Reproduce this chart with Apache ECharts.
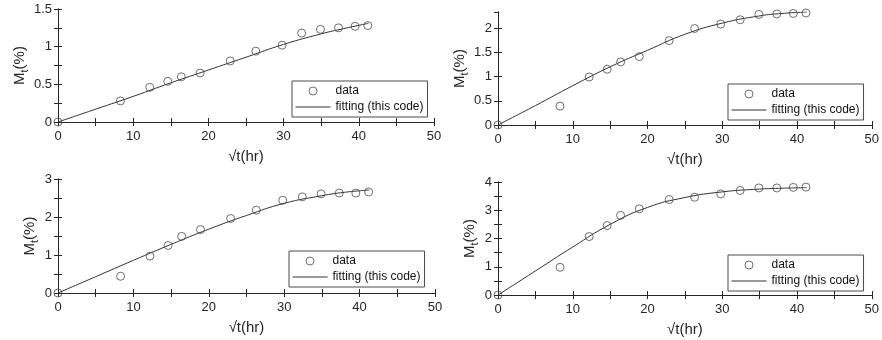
<!DOCTYPE html>
<html>
<head>
<meta charset="utf-8">
<script src="https://cdn.jsdelivr.net/npm/echarts@6/dist/echarts.min.js"></script>
<style>
html,body{margin:0;padding:0;background:#fff;}
#chart{width:882px;height:340px;}
</style>
</head>
<body>
<div id="chart"></div>
<script>
// ---- data ----
const sqrtT = [0, 8.3, 12.2, 14.6, 16.4, 18.9, 22.9, 26.3, 29.8, 32.4, 34.9, 37.3, 39.5, 41.2];

const dataA = [0, 0.28, 0.46, 0.54, 0.60, 0.65, 0.81, 0.94, 1.02, 1.18, 1.23, 1.25, 1.27, 1.28];
const dataB = [0, 0.39, 0.99, 1.15, 1.30, 1.41, 1.74, 1.99, 2.08, 2.17, 2.28, 2.29, 2.30, 2.31];
const dataC = [0, 0.44, 0.97, 1.25, 1.49, 1.67, 1.96, 2.18, 2.44, 2.53, 2.61, 2.63, 2.63, 2.66];
const dataD = [0, 0.98, 2.07, 2.46, 2.82, 3.05, 3.38, 3.46, 3.58, 3.70, 3.79, 3.79, 3.81, 3.82];

const fitX  = [0, 5, 10, 15, 20, 25, 30, 35, 38, 41.3];
const fitA  = [0, 0.17, 0.34, 0.52, 0.69, 0.86, 1.03, 1.17, 1.24, 1.31];
const fitB  = [0, 0.40, 0.81, 1.20, 1.54, 1.87, 2.10, 2.25, 2.30, 2.33];
const fitC  = [0, 0.43, 0.86, 1.28, 1.68, 2.04, 2.36, 2.56, 2.65, 2.71];
const fitD  = [0, 0.85, 1.70, 2.50, 3.10, 3.45, 3.65, 3.75, 3.78, 3.80];

const xTicks = [0, 10, 20, 30, 40, 50];
const yMaxes = [1.5, 2.33, 3, 4];
const yIntervals = [0.5, 0.5, 1, 1];
const yMinor = [true, false, true, true];

const xName = '√t(hr)';
const dataName = 'data';
const fitName = 'fitting (this code)';

// ---- layout ----
const grids = [
  {left: 58, top: 9, width: 376, height: 113},
  {left: 498, top: 12, width: 375, height: 113},
  {left: 58, top: 179, width: 377, height: 114},
  {left: 498, top: 182, width: 375, height: 113}
];
const legendPos = [
  {left: 292, top: 81},
  {left: 728, top: 84},
  {left: 289, top: 251},
  {left: 728, top: 255}
];
const yNameGaps = [30, 31, 21, 21];

const AX = '#262626';
const MARK = '#4a4a4a';
const FONT = 'Liberation Sans, Arial, sans-serif';

const dataSets = [dataA, dataB, dataC, dataD];
const fitSets = [fitA, fitB, fitC, fitD];

const xAxes = [], yAxes = [], series = [], legends = [];
grids.forEach((g, i) => {
  const xBase = {
    gridIndex: i, type: 'value', min: xTicks[0], max: xTicks[xTicks.length - 1],
    interval: xTicks[1] - xTicks[0],
    axisLine: {show: true, lineStyle: {color: AX, width: 1}},
    axisTick: {show: true, inside: true, length: 4, lineStyle: {color: AX}},
    minorTick: {show: true, splitNumber: 2, length: 4, lineStyle: {color: AX}},
    splitLine: {show: false}
  };
  xAxes.push(Object.assign({}, xBase, {
    position: 'bottom',
    axisLabel: {show: true, color: AX, fontSize: 13, fontFamily: FONT, margin: 8},
    name: xName, nameLocation: 'middle', nameGap: 27,
    nameTextStyle: {color: AX, fontSize: 15, fontFamily: FONT}
  }));
  xAxes.push(Object.assign({}, xBase, {position: 'top', axisLabel: {show: false}}));

  const yBase = {
    gridIndex: i, type: 'value', min: 0, max: yMaxes[i], interval: yIntervals[i],
    axisLine: {show: true, lineStyle: {color: AX, width: 1}},
    axisTick: {show: true, inside: true, length: 4, lineStyle: {color: AX}},
    minorTick: {show: yMinor[i], splitNumber: 2, length: 4, lineStyle: {color: AX}},
    splitLine: {show: false}
  };
  yAxes.push(Object.assign({}, yBase, {
    position: 'left',
    axisLabel: {show: true, color: AX, fontSize: 13, fontFamily: FONT, margin: 6, showMaxLabel: i !== 1},
    name: '{m|M}{s|t}{m|(%)}', nameLocation: 'middle', nameGap: yNameGaps[i], nameRotate: 90,
    nameTextStyle: {
      color: AX, fontFamily: FONT,
      rich: {
        m: {fontSize: 15, lineHeight: 15, verticalAlign: 'top', color: AX, fontFamily: FONT},
        s: {fontSize: 11, lineHeight: 11, verticalAlign: 'top', padding: [7, 0, 0, 0], color: AX, fontFamily: FONT}
      }
    }
  }));
  yAxes.push(Object.assign({}, yBase, {position: 'right', axisLabel: {show: false}}));

  series.push({
    name: dataName, type: 'scatter', xAxisIndex: 2 * i, yAxisIndex: 2 * i,
    data: sqrtT.map((x, k) => [x, dataSets[i][k]]),
    symbol: 'circle', symbolSize: 8,
    itemStyle: {color: 'rgba(255,255,255,0)', borderColor: MARK, borderWidth: 1},
    z: 3
  });
  series.push({
    name: fitName, type: 'line', xAxisIndex: 2 * i, yAxisIndex: 2 * i,
    data: fitX.map((x, k) => [x, fitSets[i][k]]),
    showSymbol: false, symbol: 'none', smooth: 0.5,
    lineStyle: {color: '#333', width: 1},
    itemStyle: {color: '#333'},
    z: 2
  });
  legends.push({
    left: legendPos[i].left, top: legendPos[i].top,
    orient: 'vertical',
    data: [
      {name: dataName, icon: 'circle',
       itemStyle: {color: 'rgba(255,255,255,0)', borderColor: MARK, borderWidth: 1}},
      {name: fitName, itemStyle: {color: 'rgba(0,0,0,0)', opacity: 0, borderWidth: 0},
       lineStyle: {color: '#333', width: 1}}
    ],
    itemWidth: 35, itemHeight: 8, itemGap: 2, itemTextGap: 2,
    padding: [3, 4, 3, 3],
    borderColor: MARK, borderWidth: 1, backgroundColor: '#fff',
    selectedMode: false,
    textStyle: {color: '#111', fontSize: 12, fontFamily: FONT, lineHeight: 14},
    z: 10
  });
});

const chart = echarts.init(document.getElementById('chart'), null, {renderer: 'canvas'});
chart.setOption({
  animation: false,
  backgroundColor: '#fff',
  grid: grids.map(g => Object.assign({containLabel: false}, g)),
  xAxis: xAxes,
  yAxis: yAxes,
  legend: legends,
  series: series
});
</script>
</body>
</html>
